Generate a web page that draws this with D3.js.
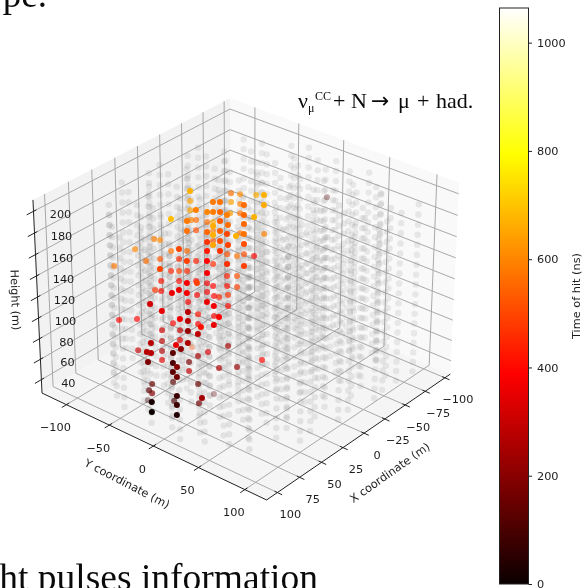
<!DOCTYPE html>
<html>
<head>
<meta charset="utf-8">
<script src="https://cdn.jsdelivr.net/npm/d3@7"></script>
<style>
  body { margin: 0; background: #fff; overflow: hidden; }
  svg { filter: blur(0.35px); }
  text { font-family: "DejaVu Sans", sans-serif; fill: #1c1c1c; }
  text.serif { font-family: "Liberation Serif", serif; fill: #0a0a0a; }
</style>
</head>
<body>
<svg id="chart" width="585" height="588"></svg>
<script>
// axis ranges and ticks
const xLim = [-107, 112];
const yLim = [-129, 123];
const zLim = [26.7, 210.4];
const xTicks = [-100, -75, -50, -25, 0, 25, 50, 75, 100];
const yTicks = [-100, -50, 0, 50, 100];
const zTicks = [40, 60, 80, 100, 120, 140, 160, 180, 200];
const timeTicks = [0, 200, 400, 600, 800, 1000];
const timeMax = 1064;

// detector strings (m) and the floor heights shared by all of them
const stringX = [100, 83, 60, 44, 20, 4, -16, -40, -55, -79, -95,
  95, 71, 55, 31, 15, -9, -24, -48, -64, -88,
  88, 72, 48, 33, 8, -7, -32, -47, -71, -87,
  103, 87, 62, 47, 23, 8, -17, -32, -57, -73, -96,
  97, 81, 56, 41, 17, 1, -24, -39, -63, -78, -99,
  94, 79, 54, 39, 14, -1, -26, -41, -65, -81,
  89, 65, 49, 25, 10, -15, -30, -55, -70, -93,
  85, 70, 46, 30, 6, -9, -34, -49, -74,
  77, 53, 38, 13, -2, -27, -42, -66, -82,
  81, 57, 42, 17, 2, -23, -38, -62,
  66, 42, 26, 2, -13, -38, -53, -78,
  49, 34, 9, -6, -31,
  34, 10, -5, -30, -45,
  -44, -61, -79.5, -75.6];
const stringY = [-14, -8, -10, -5, -7, -1, -3, 2, 0, 6, 3,
  4, 10, 6, 14, 11, 17, 14, 21, 18, 24,
  -30, -24, -27, -20, -23, -17, -20, -14, -17, -10,
  21, 27, 24, 30, 28, 34, 31, 37, 34, 41, 38,
  -48, -42, -45, -39, -41, -35, -38, -32, -35, -28, -31,
  39, 45, 42, 48, 46, 52, 49, 55, 52, 59,
  -65, -58, -61, -55, -58, -52, -54, -48, -51, -45,
  57, 63, 60, 67, 64, 70, 67, 73, 70,
  -81, -75, -78, -71, -74, -68, -71, -65, -68,
  75, 81, 78, 85, 82, 88, 85, 91,
  -93, -96, -89, -92, -86, -89, -83, -85,
  99, 96, 103, 100, 106,
  -112, -106, -109, -102, -105,
  103, 103, 105, 69];
const floorZ = [37, 46.4, 55.8, 65.2, 74.6, 84, 93.4, 102.8, 112.2, 121.6, 131, 140.4, 149.8, 159.2, 168.6, 178, 187.4, 196.8];

// hit modules of the event
const hitX = [27.3, -23.5, -27.5, -34.9, -6.1, -1.6, 19.6, 16.4, -20.9, -24.7, 6, -3.3, 1, 29.8, 25.1, 22.3, 19.1, -17.3, 16.7, -22.1,
  8.8, 4.6, 43.9, 37, 3.3, 0.9, -3.7, -6.6, 21.6, 19.1, 11.3, 26.2, 39.8, 3.8, 30.7, -4.1, 24.4, 28.7, 22, -16.4,
  14.1, -27.6, 18.3, 26.4, 23.8, 33.5, -1.2, 27.2, 31.5, 24.6, 16.8, 38.4, 21.7, 48.5, 14, 36, 30, -4.2, -8.4, -12.3,
  -16.5, 36.5, 29.2, 20.1, 48.2, 12.6, 38.8, 5.3, 30.3, 22.9, 53.2, 62.9, 27.4, 23.5, 19.7, 42.1, 2.1, -2.7, 35, 26.4,
  54.3, 18.3, 49.6, 13.7, 11.6, 4.9, 0.4, 40.5, 37.8, 64, 59.9, 57.1, 21.8, 16.2, 14, 11.8, 7, 77.3, 28.1, 50.2,
  48.1, 10.1, 66.2, 57.3, 73.7, 61.8, 26.8, 67.5, 41.3, 64.3, 19.7, 48.7, 29.6, 59.9, 53.4, 48.6, 40, 67.1, 63.3, 42.8,
  76.6, 87.7, 51.7, 70.5, 21.5, 8.4, 75.4, 65.7, 92.1, 90.4, 54.5, 80.2, 38.8, 32.8, 94.3, 57.1, 83, 82.2, 44.8, 32.1,
  23.2, 47.3, 85.5, 85, 58.1, 68.6, 46.7, 71.9, 71.2, 11.3, 90.3, 79.2, 45.5, 103.7, 63, 51.7, 92.8, 106.4, 95.6, -101.5, 9.3];
const hitY = [-41.6, -46.3, -40.1, -29.4, 6.8, -70.9, -24, -19.5, -43.8, -37.4, -3.4, 9.4, -68.4, -32.7, -25.1, -21.3, -16.8, -41.4, -11.5, -34.9,
  -0.7, 6.3, -46.2, -35.5, -65.1, -61.8, -54, -50.1, -14.4, -8.2, 1.7, -17.5, -32.8, -59, -19.7, -47.7, -11.7, -15.1, -6.4, -29.4,
  4.4, -13.4, -0.2, -84.1, -79.9, -17, -44.9, -9, -12.4, -2.8, 7.1, -93.8, -69.7, -33.1, -59.2, -14.6, -6.3, -32.1, -25.1, -21,
  -13.9, -83.3, -74.7, -62.3, -24.8, -50.5, -12, -38.6, 1.7, 13, -102.8, -39.9, -64.2, -59, -53.7, -8.7, -26.1, -19.6, -67.9, -56.2,
  -18.9, -45, -12.5, -37.3, -32.5, -23.3, -16.6, -69.4, -65.2, -25.8, -22.1, -16.2, -40.6, -34.8, -29.1, -25.6, -20.3, -36.8, -44.5, -1,
  4.5, -17.2, -84.8, -73.3, -27.4, -10.5, -34.6, -13.7, -48.6, -8.1, -23.6, 10.7, -31.9, 1.8, 9.6, -53.8, -42, -5.4, 1.8, -39.3,
  -9.2, -25.8, -50.8, -2.2, -6.2, -60.8, -5, -64, -26, -23.1, -48.1, -9.1, -23.1, -17.7, -22.6, -45.6, -6.4, -2.7, -27.3, -6.1,
  5.4, -24.9, -4, -0.1, -32.3, -45.5, -15.4, -45.8, -43, -32.8, 5, 21.6, -75.4, -9.4, -26.4, -9.6, 7.4, -6.7, 10.1, -12.4, 19.9];
const hitZ = [209, 182.5, 181.8, 181.1, 206.2, 176.8, 201.3, 201.3, 176.1, 174.6, 199.2, 199.2, 170.3, 195.7, 194.3, 194.3, 194.3, 168.1, 192.2, 168.1,
  192.2, 190.8, 189.4, 188, 163.1, 163.1, 161.7, 161.7, 188, 185.1, 185.9, 184.4, 180.9, 155.9, 180.2, 155.2, 180.9, 178.1, 178.8, 153.7,
  178.8, 153, 177.4, 149.4, 148.7, 173.2, 148, 173.9, 171.1, 171.1, 171.8, 142.2, 140.8, 168.3, 140.8, 166.9, 166.9, 138.6, 137.2, 138.6,
  137.2, 133.6, 135, 135, 159.9, 133.6, 159.9, 131.4, 157.8, 156.4, 130, 154.3, 126.4, 126.4, 126.4, 151.5, 122.8, 122.8, 119.2, 119.2,
  144.4, 119.2, 144.4, 117.7, 115.6, 115.6, 114.9, 112.7, 112, 137.4, 139.5, 137.4, 109.1, 111.3, 108.4, 107.7, 109.1, 129.7, 104.1, 131.1,
  128.3, 101.2, 91.1, 91.8, 124.8, 124.1, 95.4, 119.2, 88.9, 117.8, 94, 120.6, 88.2, 113.5, 114.9, 83.9, 83.9, 110.7, 108.6, 76.7,
  100.9, 102.3, 76, 102.3, 72.4, 43.8, 98.1, 69.5, 96, 95.3, 68.8, 95.3, 65.2, 68.1, 89, 62.3, 88.3, 85.5, 60.9, 56.5,
  57.3, 54.4, 82, 78.4, 46.5, 45, 45, 40.7, 38.5, 9.1, 65.1, 63.7, 4.7, 60.9, 32.8, 31.3, 58.8, 53.9, 51.8, 154.5, 62.3];
const hitTime = [670, 570, 610, 670, 670, 650, 580, 570, 650, 590, 560, 660, 650, 590, 600, 580, 550, 640, 590, 570,
  550, 670, 690, 580, 600, 560, 560, 660, 530, 560, 550, 660, 570, 510, 550, 590, 540, 670, 500, 570,
  570, 590, 670, 590, 610, 470, 530, 510, 650, 490, 510, 600, 570, 500, 560, 430, 470, 510, 570, 510,
  385, 560, 530, 450, 490, 430, 395, 450, 460, 490, 580, 500, 440, 490, 450, 375, 430, 510, 420, 410,
  375, 400, 490, 375, 395, 410, 490, 470, 410, 355, 355, 375, 375, 365, 395, 450, 470, 315, 375, 355,
  375, 400, 395, 395, 355, 275, 420, 365, 375, 275, 375, 395, 375, 410, 355, 305, 305, 225, 285, 345,
  355, 275, 275, 255, 245, 530, 205, 295, 275, 275, 255, 130, 255, 325, 180, 335, 100, 195, 180, 265,
  225, 295, 130, 160, 120, 150, 150, 130, 195, 130, 80, 245, 90, 20, 90, 160, 80, 0, 40, 100, 395];

// hot colormap stops
const hotStops = [0, 0.365, 0.746, 1];
const hotColors = ['#0b0000', '#ff0000', '#ffff00', '#ffffff'];

// camera: elevation 30, azimuth 40, as the matplotlib 3d view
const elev = (30 * Math.PI) / 180;
const azim = (40 * Math.PI) / 180;
const camDist = 10;
const viewN = [Math.cos(elev) * Math.cos(azim), Math.cos(elev) * Math.sin(azim), Math.sin(elev)];
const viewU = [-Math.sin(azim), Math.cos(azim), 0];
const viewV = [-Math.sin(elev) * Math.cos(azim), -Math.sin(elev) * Math.sin(azim), Math.cos(elev)];
const dot = (a, b) => a[0] * b[0] + a[1] * b[1] + a[2] * b[2];

const boxX = d3.scaleLinear().domain(xLim).range([-0.5715, 0.5715]);
const boxY = d3.scaleLinear().domain(yLim).range([-0.5715, 0.5715]);
const boxZ = d3.scaleLinear().domain(zLim).range([-0.4286, 0.4286]);
const screenX = d3.scaleLinear().domain([0, 0.1]).range([247.4, 506.4]);
const screenY = d3.scaleLinear().domain([0, 0.1]).range([289.4, 30.4]);

const project = ([x, y, z]) => {
  const p = [boxX(x), boxY(y), boxZ(z)];
  const depth = dot(p, viewN);
  const w = camDist - depth;
  return { sx: screenX(dot(p, viewU) / w), sy: screenY(dot(p, viewV) / w), depth };
};
const toPath = d3.line().x(d => project(d).sx).y(d => project(d).sy);

const svg = d3.select('#chart');

// panes
const [x0, x1] = xLim;
const [y0, y1] = yLim;
const [z0, z1] = zLim;
const panes = [
  { fill: '#f9f9f9', corners: [[x0, y0, z0], [x0, y1, z0], [x0, y1, z1], [x0, y0, z1]] },
  { fill: '#f2f2f2', corners: [[x0, y0, z0], [x1, y0, z0], [x1, y0, z1], [x0, y0, z1]] },
  { fill: '#f5f5f5', corners: [[x0, y0, z0], [x1, y0, z0], [x1, y1, z0], [x0, y1, z0]] }
];
svg.append('g').selectAll('path').data(panes).join('path')
  .attr('fill', d => d.fill)
  .attr('d', d => toPath(d.corners) + 'Z');

// grid lines bend at the pane edges
const gridLines = [
  ...xTicks.map(t => [[t, y1, z0], [t, y0, z0], [t, y0, z1]]),
  ...yTicks.map(t => [[x1, t, z0], [x0, t, z0], [x0, t, z1]]),
  ...zTicks.map(t => [[x1, y0, t], [x0, y0, t], [x0, y1, t]])
];
svg.append('g').selectAll('path').data(gridLines).join('path')
  .attr('fill', 'none')
  .attr('stroke', '#a8a8a8')
  .attr('stroke-width', 1)
  .attr('d', toPath);

// axis lines
const axisLines = [
  [[x0, y1, z0], [x1, y1, z0]],
  [[x1, y0, z0], [x1, y1, z0]],
  [[x1, y0, z0], [x1, y0, z1]]
];
svg.append('g').selectAll('path').data(axisLines).join('path')
  .attr('stroke', '#222')
  .attr('stroke-width', 1)
  .attr('d', toPath);

// tick marks
const tickMarks = [
  ...xTicks.map(t => [[t, y1 - 3, z0], [t, y1 + 5, z0]]),
  ...yTicks.map(t => [[x1 - 3, t, z0], [x1 + 5, t, z0]]),
  ...zTicks.map(t => [[x1 - 3, y0, t], [x1 + 7, y0, t]])
];
svg.append('g').selectAll('path').data(tickMarks).join('path')
  .attr('stroke', '#222')
  .attr('stroke-width', 1)
  .attr('d', toPath);

// tick labels
const fmt = t => String(t).replace('-', '\u2212');
const tickLabels = [
  ...xTicks.map(t => ({ t, at: [t, y1, z0], dx: 13, dy: 22 })),
  ...yTicks.map(t => ({ t, at: [x1, t, z0], dx: -11, dy: 23 })),
  ...zTicks.map(t => ({ t, at: [x1, y0, t], dx: 27, dy: 3.5 }))
];
svg.append('g').selectAll('text').data(tickLabels).join('text')
  .attr('x', d => project(d.at).sx + d.dx)
  .attr('y', d => project(d.at).sy + d.dy)
  .attr('text-anchor', 'middle')
  .attr('dominant-baseline', 'central')
  .attr('font-size', 11.3)
  .text(d => fmt(d.t));

// axis titles
const axisTitles = [
  { text: 'X coordinate (m)', x: 390, y: 473, angle: -35.4 },
  { text: 'Y coordinate (m)', x: 127, y: 484, angle: 27.4 },
  { text: 'Height (m)', x: 15, y: 300, angle: 88 }
];
svg.append('g').selectAll('text').data(axisTitles).join('text')
  .attr('transform', d => `translate(${d.x},${d.y}) rotate(${d.angle})`)
  .attr('text-anchor', 'middle')
  .attr('dominant-baseline', 'central')
  .attr('font-size', 11.3)
  .text(d => d.text);

// all modules, far ones first
const modules = d3.cross(d3.zip(stringX, stringY), floorZ)
  .map(([[x, y], z]) => project([x, y, z]))
  .sort((a, b) => a.depth - b.depth);
const moduleFade = d3.scaleLinear().domain(d3.extent(modules, d => d.depth)).range([0.12, 0.18]);
svg.append('g').selectAll('circle').data(modules).join('circle')
  .attr('cx', d => d.sx)
  .attr('cy', d => d.sy)
  .attr('r', 3.2)
  .attr('fill', '#808080')
  .attr('opacity', d => moduleFade(d.depth));

// hit modules, coloured by time
const timeColor = d3.scaleLinear().domain(hotStops.map(s => s * timeMax)).range(hotColors);
const hits = hitX.map((x, i) => ({ ...project([x, hitY[i], hitZ[i]]), time: hitTime[i] }))
  .sort((a, b) => a.depth - b.depth);
const hitFade = d3.scaleLinear().domain(d3.extent(hits, d => d.depth)).range([0.35, 1]);
svg.append('g').selectAll('circle').data(hits).join('circle')
  .attr('cx', d => d.sx)
  .attr('cy', d => d.sy)
  .attr('r', 3)
  .attr('fill', d => timeColor(d.time))
  .attr('opacity', d => hitFade(d.depth));

// colorbar
const barY = d3.scaleLinear().domain([0, timeMax]).range([584, 8]);
const gradient = svg.append('defs').append('linearGradient')
  .attr('id', 'hot').attr('x1', 0).attr('y1', 1).attr('x2', 0).attr('y2', 0);
gradient.selectAll('stop').data(hotStops).join('stop')
  .attr('offset', d => d)
  .attr('stop-color', (d, i) => hotColors[i]);
svg.append('rect')
  .attr('x', 499.5).attr('y', barY(timeMax))
  .attr('width', 29).attr('height', barY(0) - barY(timeMax))
  .attr('fill', 'url(#hot)')
  .attr('stroke', '#222')
  .attr('stroke-width', 1);
const barAxis = svg.append('g')
  .attr('transform', 'translate(528.5,0)')
  .call(d3.axisRight(barY).tickValues(timeTicks).tickFormat(d3.format('d')).tickSize(3.5).tickPadding(5));
barAxis.select('.domain').remove();
barAxis.selectAll('line').attr('stroke', '#222');
barAxis.selectAll('text').attr('font-size', 11.3).attr('font-family', '"DejaVu Sans", sans-serif').attr('fill', '#1c1c1c');
svg.append('text')
  .attr('transform', 'translate(576,296) rotate(-90)')
  .attr('text-anchor', 'middle')
  .attr('dominant-baseline', 'central')
  .attr('font-size', 11.3)
  .text('Time of hit (ns)');

// reaction label and the page text around the figure
const reaction = svg.append('text').attr('class', 'serif').attr('y', 108).attr('font-size', 22);
reaction.append('tspan').attr('x', 298).text('\u03bd');
reaction.append('tspan').attr('font-size', 12).attr('dy', 4).text('\u03bc');
reaction.append('tspan').attr('font-size', 12).attr('x', 315).attr('dy', -12).text('CC');
reaction.append('tspan').attr('x', 333).attr('dy', 8).text('+');
reaction.append('tspan').attr('x', 351).text('N');
reaction.append('tspan').attr('x', 371).attr('style', 'font-family: "DejaVu Sans"').text('\u2192');
reaction.append('tspan').attr('x', 398).text('\u03bc');
reaction.append('tspan').attr('x', 417).text('+');
reaction.append('tspan').attr('x', 436).text('had.');

svg.append('text').attr('class', 'serif').attr('x', 47).attr('y', 7).attr('text-anchor', 'end').attr('font-size', 37).text('pe.');
svg.append('text').attr('class', 'serif').attr('x', 318).attr('y', 590).attr('text-anchor', 'end').attr('font-size', 37.5).text('ht pulses information');
</script>
</body>
</html>
